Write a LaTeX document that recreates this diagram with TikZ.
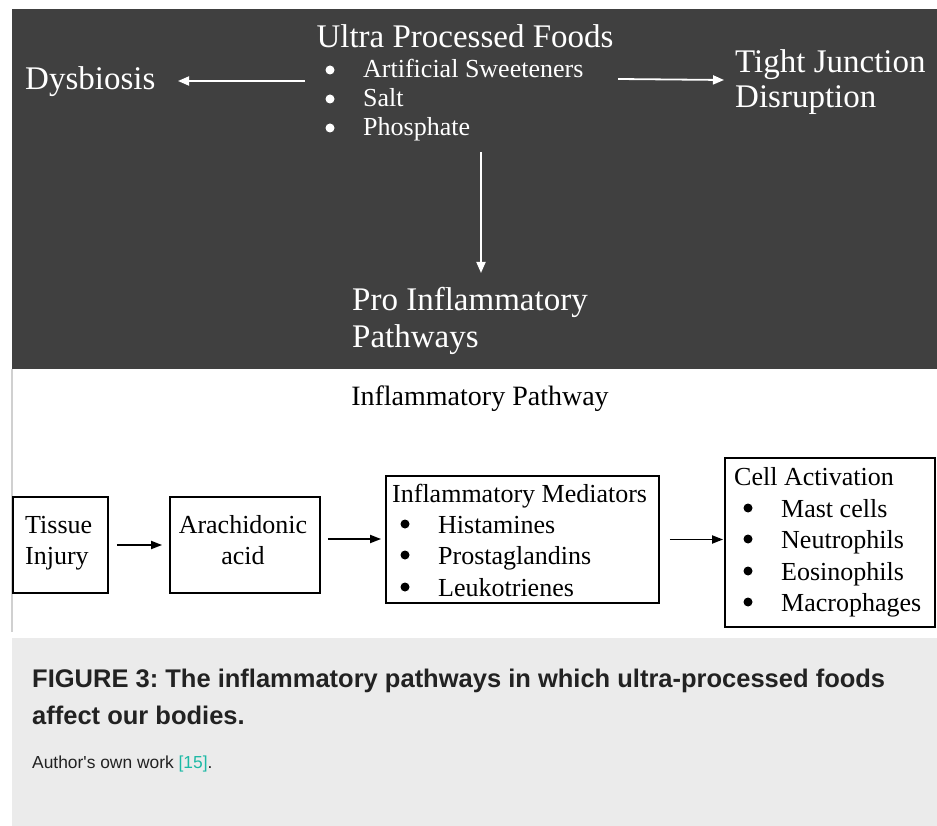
\documentclass[tikz,border=0pt]{standalone}
\usepackage{fontspec}
\setmainfont{Liberation Serif}
\newfontfamily\capfont{Liberation Sans}
\usetikzlibrary{arrows.meta}
\definecolor{darkbg}{HTML}{404040}
\definecolor{capbg}{HTML}{EBEBEB}
\definecolor{edgegray}{HTML}{D0D0D0}
\definecolor{captext}{HTML}{222222}
\definecolor{linkteal}{HTML}{1DB9A5}
\tikzset{
  big/.style={inner sep=0pt, text=white, font=\fontsize{33}{36}\selectfont},
  small/.style={inner sep=0pt, text=white, font=\fontsize{26}{29}\selectfont},
  btxt/.style={inner sep=0pt, text=black, font=\fontsize{26}{29}\selectfont},
  wdot/.style={circle, fill=white, inner sep=0pt, minimum size=9pt},
  bdot/.style={circle, fill=black, inner sep=0pt, minimum size=9pt},
  warr/.style={draw=white, line width=1.8pt, -{Triangle[length=11pt,width=9pt]}},
  barr/.style={draw=black, line width=1.8pt, -{Triangle[length=11pt,width=8pt]}},
  stagebox/.style={draw=black, line width=1.8pt, inner sep=0pt},
}
\frenchspacing
\begin{document}
\begin{tikzpicture}[x=1pt,y=-1pt]
\useasboundingbox (0,0) rectangle (937,826);
\fill[white] (0,0) rectangle (937,826);
\fill[darkbg] (12,9) rectangle (937,369);
\fill[capbg] (12,638) rectangle (937,826);
\draw[edgegray, line width=2pt] (12,369) -- (12,632);

% top panel
\node[big, anchor=base] (upf) at (465,48) {Ultra Processed Foods};
\node[wdot] (b1) at (330,70) {};
\node[wdot] (b2) at (330,99) {};
\node[wdot] (b3) at (330,128) {};
\node[small, anchor=base west] (i1) at (363,78) {Artificial Sweeteners};
\node[small, anchor=base west] (i2) at (363,107) {Salt};
\node[small, anchor=base west] (i3) at (363,136) {Phosphate};
\node[big, anchor=base west] (dys) at (25,90) {Dysbiosis};
\node[big, anchor=base west] (tj1) at (735,73) {Tight Junction};
\node[big, anchor=base west] (tj2) at (735,108) {Disruption};
\node[big, anchor=base west] (pi1) at (352,311) {Pro Inflammatory};
\node[big, anchor=base west] (pi2) at (352,347) {Pathways};

\coordinate (dysfrom) at (305,81);
\coordinate (dysto) at (178,81);
\coordinate (tjfrom) at (618,79);
\coordinate (tjto) at (724,80);
\coordinate (pifrom) at (481,152);
\coordinate (pito) at (481,273);
\draw[warr] (dysfrom) -- (dysto);
\draw[warr] (tjfrom) -- (tjto);
\draw[warr] (pifrom) -- (pito);

% bottom panel
\node[btxt, anchor=base, font=\fontsize{28}{31}\selectfont] (title) at (480,405) {Inflammatory Pathway};

\node[stagebox, minimum width=95pt, minimum height=96pt] (ti) at (60.5,545) {};
\node[stagebox, minimum width=150pt, minimum height=96pt] (ar) at (245,545) {};
\node[stagebox, minimum width=273pt, minimum height=127pt] (me) at (522.5,539.5) {};
\node[stagebox, minimum width=210pt, minimum height=169pt] (ce) at (830,542.5) {};

\node[btxt, anchor=base west] (ti1) at (25,533) {Tissue};
\node[btxt, anchor=base west] (ti2) at (25,564) {Injury};
\node[btxt, anchor=base] (ar1) at (243,533) {Arachidonic};
\node[btxt, anchor=base] (ar2) at (243,564) {acid};

\node[btxt, anchor=base west] (me0) at (392,502) {Inflammatory Mediators};
\node[bdot] (mb1) at (405,524) {};
\node[bdot] (mb2) at (405,555) {};
\node[bdot] (mb3) at (405,587) {};
\node[btxt, anchor=base west] (me1) at (438,533) {Histamines};
\node[btxt, anchor=base west] (me2) at (438,564) {Prostaglandins};
\node[btxt, anchor=base west] (me3) at (438,596) {Leukotrienes};

\node[btxt, anchor=base west] (ce0) at (734,485) {Cell Activation};
\node[bdot] (cb1) at (748,508) {};
\node[bdot] (cb2) at (748,539) {};
\node[bdot] (cb3) at (748,571) {};
\node[bdot] (cb4) at (748,602) {};
\node[btxt, anchor=base west] (ce1) at (781,517) {Mast cells};
\node[btxt, anchor=base west] (ce2) at (781,548) {Neutrophils};
\node[btxt, anchor=base west] (ce3) at (781,580) {Eosinophils};
\node[btxt, anchor=base west] (ce4) at (781,611) {Macrophages};

\draw[barr, shorten <=8pt, shorten >=7pt] (ti.east) -- (ar.west);
\draw[barr, shorten <=7pt, shorten >=4pt] ([yshift=6pt]ar.east) -- ([yshift=6pt]ar.east -| me.west);
\draw[barr, shorten <=10pt, shorten >=1pt] (me.east) -- (me.east -| ce.west);

% caption
\node[inner sep=0pt, anchor=base west, text=captext, font=\capfont\bfseries\fontsize{25.5}{28}\selectfont] (cap1) at (32,687) {FIGURE 3: The inflammatory pathways in which ultra-processed foods};
\node[inner sep=0pt, anchor=base west, text=captext, font=\capfont\bfseries\fontsize{25.5}{28}\selectfont] (cap2) at (32,724) {affect our bodies.};
\node[inner sep=0pt, anchor=base west, text=captext, font=\capfont\fontsize{17.4}{19}\selectfont] (auth) at (32,768) {Author's own work \textcolor{linkteal}{[15]}.};
\end{tikzpicture}
\end{document}
